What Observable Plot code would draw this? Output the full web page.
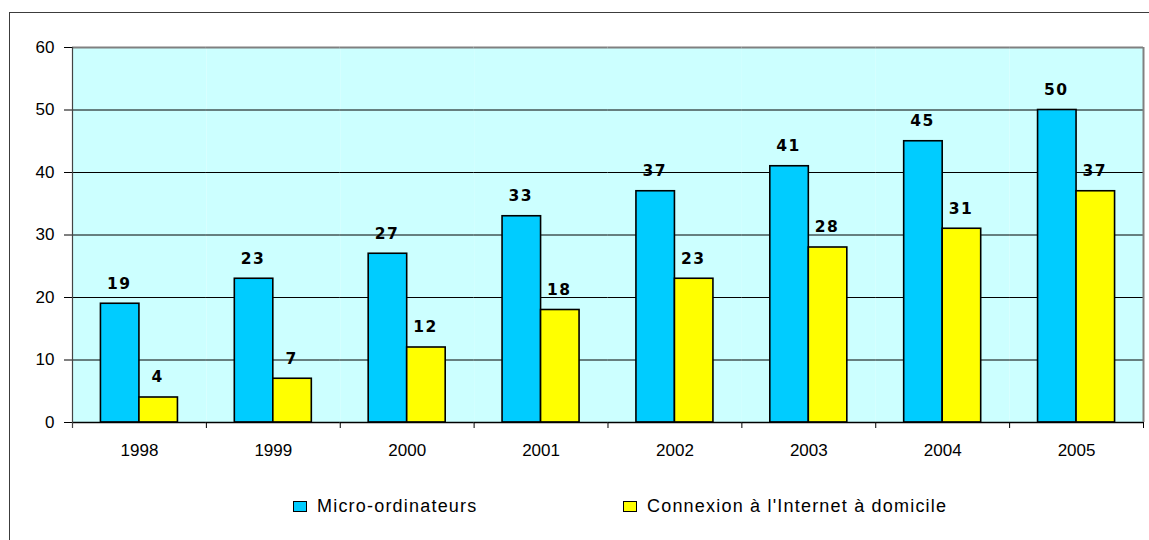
<!DOCTYPE html>
<html>
<head>
<meta charset="utf-8">
<script src="https://cdn.jsdelivr.net/npm/d3@7"></script>
<script src="https://cdn.jsdelivr.net/npm/@observablehq/plot@0.6"></script>
<style>
  html, body { margin: 0; padding: 0; background: #fff; }
  #wrap { position: relative; width: 1149px; height: 540px; overflow: hidden; font-family: "Liberation Sans", Arial, sans-serif; }
  #border { position: absolute; left: 9px; top: 12px; width: 1300px; height: 700px; border: 1px solid #3c3c3c; box-sizing: border-box; }
  #chart { position: absolute; left: 0; top: 0; }
  #chart svg { display: block; overflow: visible; }
  .vlabels text { letter-spacing: 1.5px; }
  #legend { position: absolute; top: 494px; left: 0; width: 1149px; height: 24px; font-size: 18px; letter-spacing: 1.2px; color: #000; }
  .item { position: absolute; top: 0; display: flex; align-items: center; height: 24px; }
  .sw { width: 12px; height: 9px; border: 1px solid #000; margin-right: 10px; }
</style>
</head>
<body>
<div id="wrap">
  <div id="border"></div>
  <div id="chart"></div>
  <div id="legend"></div>
</div>
<script>
const years = ["1998", "1999", "2000", "2001", "2002", "2003", "2004", "2005"];
const seriesNames = ["Micro-ordinateurs", "Connexion à l'Internet à domicile"];
const micro = [19, 23, 27, 33, 37, 41, 45, 50];
const internet = [4, 7, 12, 18, 23, 28, 31, 37];
const seriesColors = ["#00CCFF", "#FFFF00"];
const yTicks = [0, 10, 20, 30, 40, 50, 60];
const gridValues = [10, 20, 30, 40, 50];

const data = [];
years.forEach((yr, i) => {
  data.push({year: yr, series: seriesNames[0], value: micro[i]});
  data.push({year: yr, series: seriesNames[1], value: internet[i]});
});

const W = 1149, H = 460;
const mL = 72, mR = 6, mT = 47, mB = 38;
const pOuter = 0.7386;
const facetW = (W - mL - mR) / years.length;
const bw = facetW / (2 + 2 * pOuter);
const edge = bw * (0.5 + pOuter);
const tickLen = 6 / ((H - mT - mB) / 60); // 6px expressed in y units

const plot = Plot.plot({
  width: W,
  height: H,
  marginLeft: mL,
  marginRight: mR,
  marginTop: mT,
  marginBottom: mB,
  style: {fontFamily: "'Liberation Sans', Arial, sans-serif", fontSize: "17px", color: "#000", background: "transparent"},
  facet: {data: data, x: "year"},
  fx: {domain: years, padding: 0, round: false, label: null, axis: "bottom", tickSize: 0, tickPadding: 21},
  x: {domain: seriesNames, paddingInner: 0, paddingOuter: pOuter, round: false, axis: null},
  y: {domain: [0, 60], ticks: yTicks, tickSize: 8, tickPadding: 10, label: null},
  color: {domain: seriesNames, range: seriesColors},
  marks: [
    Plot.frame({fill: "#CCFFFF", stroke: "none"}),
    Plot.ruleY(gridValues, {stroke: "#000", strokeWidth: 1}),
    Plot.ruleY([60], {stroke: "#808080", strokeWidth: 2}),
    Plot.barY(data, {x: "series", y: "value", fill: "series", stroke: "#000", strokeWidth: 1.6}),
    Plot.ruleY([0], {stroke: "#000", strokeWidth: 1.5}),
    // category boundary ticks below the axis
    Plot.ruleX(data, {filter: d => d.series === seriesNames[0], x: "series", dx: -edge, y1: 0, y2: -tickLen, stroke: "#000", strokeWidth: 1}),
    Plot.ruleX(data, {filter: d => d.series === seriesNames[1] && d.year === years[years.length - 1], x: "series", dx: edge, y1: 0, y2: -tickLen, stroke: "#000", strokeWidth: 1}),
    // left axis line
    Plot.ruleX(data, {filter: d => d.series === seriesNames[0] && d.year === years[0], x: "series", dx: -edge, y1: -tickLen, y2: 60, stroke: "#444", strokeWidth: 1.2}),
    // right plot-area border
    Plot.ruleX(data, {filter: d => d.series === seriesNames[1] && d.year === years[years.length - 1], x: "series", dx: edge, y1: 0, y2: 60, stroke: "#808080", strokeWidth: 2}),
    Plot.text(data, {x: "series", y: "value", text: d => String(d.value), dy: -20, dx: -1, fontWeight: "bold", fontSize: 15.5, fontFamily: "'DejaVu Sans', Verdana, sans-serif", fill: "#000", className: "vlabels"})
  ]
});
document.getElementById("chart").appendChild(plot);

const legend = document.getElementById("legend");
const legendX = [293, 623];
seriesNames.forEach((name, i) => {
  const item = document.createElement("div");
  item.className = "item";
  item.style.left = legendX[i] + "px";
  const sw = document.createElement("div");
  sw.className = "sw";
  sw.style.background = seriesColors[i];
  const label = document.createElement("span");
  label.textContent = name;
  item.appendChild(sw);
  item.appendChild(label);
  legend.appendChild(item);
});
</script>
</body>
</html>
